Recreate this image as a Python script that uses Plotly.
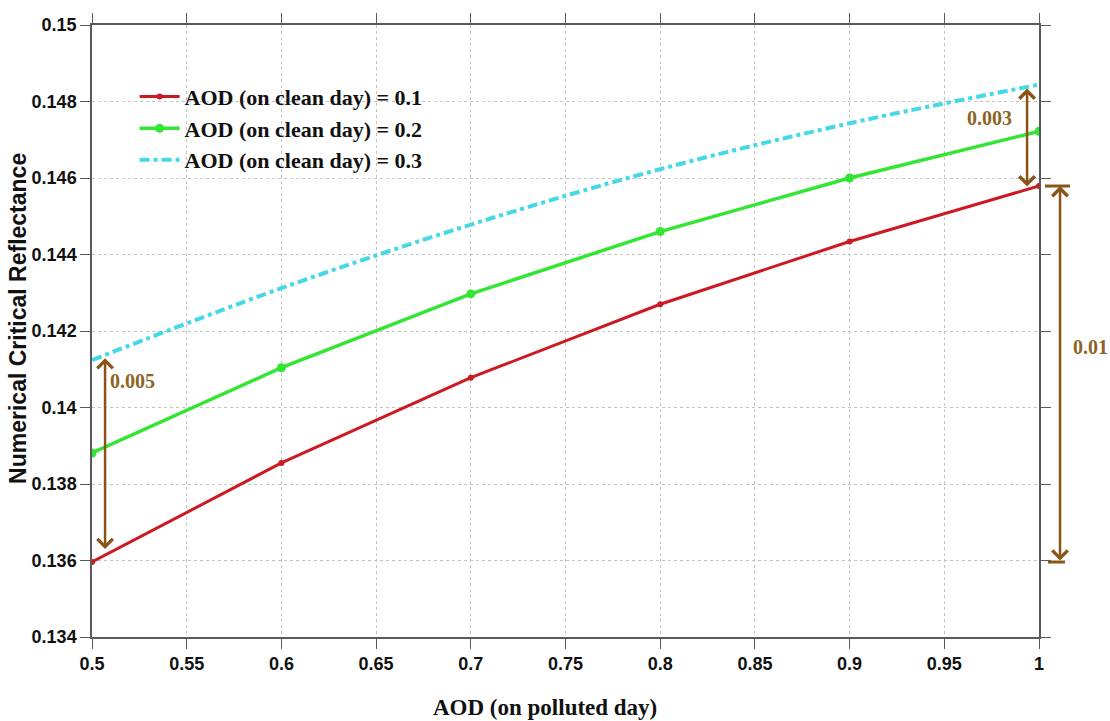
import plotly.graph_objects as go

# AOD on the polluted day (x) and critical reflectance for three clean-day AODs
aod_polluted = [0.5, 0.6, 0.7, 0.8, 0.9, 1.0]
refl_clean_01 = [0.13596, 0.13855, 0.14078, 0.14270, 0.14434, 0.14579]
refl_clean_02 = [0.13881, 0.14104, 0.14297, 0.14460, 0.14600, 0.14722]
refl_clean_03 = [0.14124, 0.14312, 0.14478, 0.14623, 0.14743, 0.14844]

series_names = ["AOD (on clean day) = 0.1",
                "AOD (on clean day) = 0.2",
                "AOD (on clean day) = 0.3"]

x_tickvals = [0.5, 0.55, 0.6, 0.65, 0.7, 0.75, 0.8, 0.85, 0.9, 0.95, 1.0]
x_ticktext = ["0.5", "0.55", "0.6", "0.65", "0.7", "0.75", "0.8", "0.85", "0.9", "0.95", "1"]
y_tickvals = [0.134, 0.136, 0.138, 0.14, 0.142, 0.144, 0.146, 0.148, 0.15]
y_ticktext = ["0.134", "0.136", "0.138", "0.14", "0.142", "0.144", "0.146", "0.148", "0.15"]

# difference labels
diff_left = "0.005"
diff_right_top = "0.003"
diff_right_span = "0.01"

RED = "#cc1a22"
GREEN = "#33e633"
CYAN = "#45d9e6"
BROWN = "#8a5418"
BROWN_TXT = "#8c6424"
SERIF = "Liberation Serif, Times New Roman"
SANS = "Liberation Sans, Arial"

fig = go.Figure()
fig.add_trace(go.Scatter(
    x=aod_polluted, y=refl_clean_01, name=series_names[0], mode="lines+markers",
    line=dict(color=RED, width=3), marker=dict(color=RED, size=6, symbol="circle")))
fig.add_trace(go.Scatter(
    x=aod_polluted, y=refl_clean_02, name=series_names[1], mode="lines+markers",
    line=dict(color=GREEN, width=3.5), marker=dict(color=GREEN, size=9, symbol="circle")))
fig.add_trace(go.Scatter(
    x=aod_polluted, y=refl_clean_03, name=series_names[2], mode="lines",
    line=dict(color=CYAN, width=4, dash="10px,4px,4px,4px", shape="spline")))

axis_common = dict(
    showline=True, linecolor="#5a5a5a", linewidth=1.5, mirror="ticks",
    ticks="outside", ticklen=10, tickwidth=1.3, tickcolor="#5a5a5a",
    showgrid=True, gridcolor="#c4c4c4", griddash="dot", gridwidth=1,
    zeroline=False,
    tickfont=dict(family=SANS, size=18, color="#111", weight="bold"),
)

fig.update_xaxes(range=[0.5, 1.0], tickvals=x_tickvals, ticktext=x_ticktext, **axis_common)
fig.update_yaxes(range=[0.134, 0.15], tickvals=y_tickvals, ticktext=y_ticktext, **axis_common)

arrow_style = dict(text="", showarrow=True, arrowside="end+start", arrowhead=4,
                   arrowsize=1.2, arrowwidth=2.5, arrowcolor=BROWN,
                   standoff=0, startstandoff=0)
label_font = dict(family=SERIF, size=20, color=BROWN_TXT, weight="bold")

annotations = [
    # axis titles
    dict(text="AOD (on polluted day)", xref="paper", yref="paper", x=0.478, y=-0.116,
         showarrow=False, xanchor="center", yanchor="middle",
         font=dict(family=SERIF, size=23, color="#111", weight="bold")),
    dict(text="Numerical Critical Reflectance", xref="paper", yref="paper", x=-0.078, y=0.52,
         showarrow=False, textangle=-90, xanchor="center", yanchor="middle",
         font=dict(family=SANS, size=23, color="#111", weight="bold")),
    # double-headed arrows between the curves
    dict(x=0.5069, y=refl_clean_03[0] + 0.00005, ax=0.5069, ay=refl_clean_01[0] + 0.0003,
         xref="x", yref="y", axref="x", ayref="y", **arrow_style),
    dict(x=0.9937, y=refl_clean_03[-1] - 0.0001, ax=0.9937, ay=refl_clean_01[-1] - 0.00005,
         xref="x", yref="y", axref="x", ayref="y", **arrow_style),
    # span arrow right of the frame
    dict(x=1.0222, y=refl_clean_01[-1], ax=0, ay=refl_clean_01[0],
         xref="paper", yref="y", axref="pixel", ayref="y", **arrow_style),
    # difference labels
    dict(text=diff_left, x=0.5215, y=0.14068, xref="x", yref="y", showarrow=False, font=label_font),
    dict(text=diff_right_top, x=0.9737, y=0.14757, xref="x", yref="y", showarrow=False, font=label_font),
    dict(text=diff_right_span, x=1.0338, y=0.14158, xref="paper", yref="y", xanchor="left",
         showarrow=False, font=label_font),
]

shapes = [
    dict(type="line", xref="paper", yref="y", x0=1.0063, x1=1.0327,
         y0=refl_clean_01[-1], y1=refl_clean_01[-1], line=dict(color=BROWN, width=3)),
    dict(type="line", xref="paper", yref="y", x0=1.0095, x1=1.0275,
         y0=refl_clean_01[0], y1=refl_clean_01[0], line=dict(color=BROWN, width=3)),
]

fig.update_layout(
    width=1110, height=721,
    margin=dict(l=92, r=71, t=25, b=84),
    paper_bgcolor="white", plot_bgcolor="white",
    showlegend=True,
    legend=dict(x=0.045, y=0.917, xanchor="left", yanchor="top",
                bgcolor="rgba(255,255,255,0)", borderwidth=0,
                tracegroupgap=0, itemwidth=40,
                font=dict(family=SERIF, size=22, color="#111", weight="bold")),
    annotations=annotations,
    shapes=shapes,
)

fig.write_html("out.html")
